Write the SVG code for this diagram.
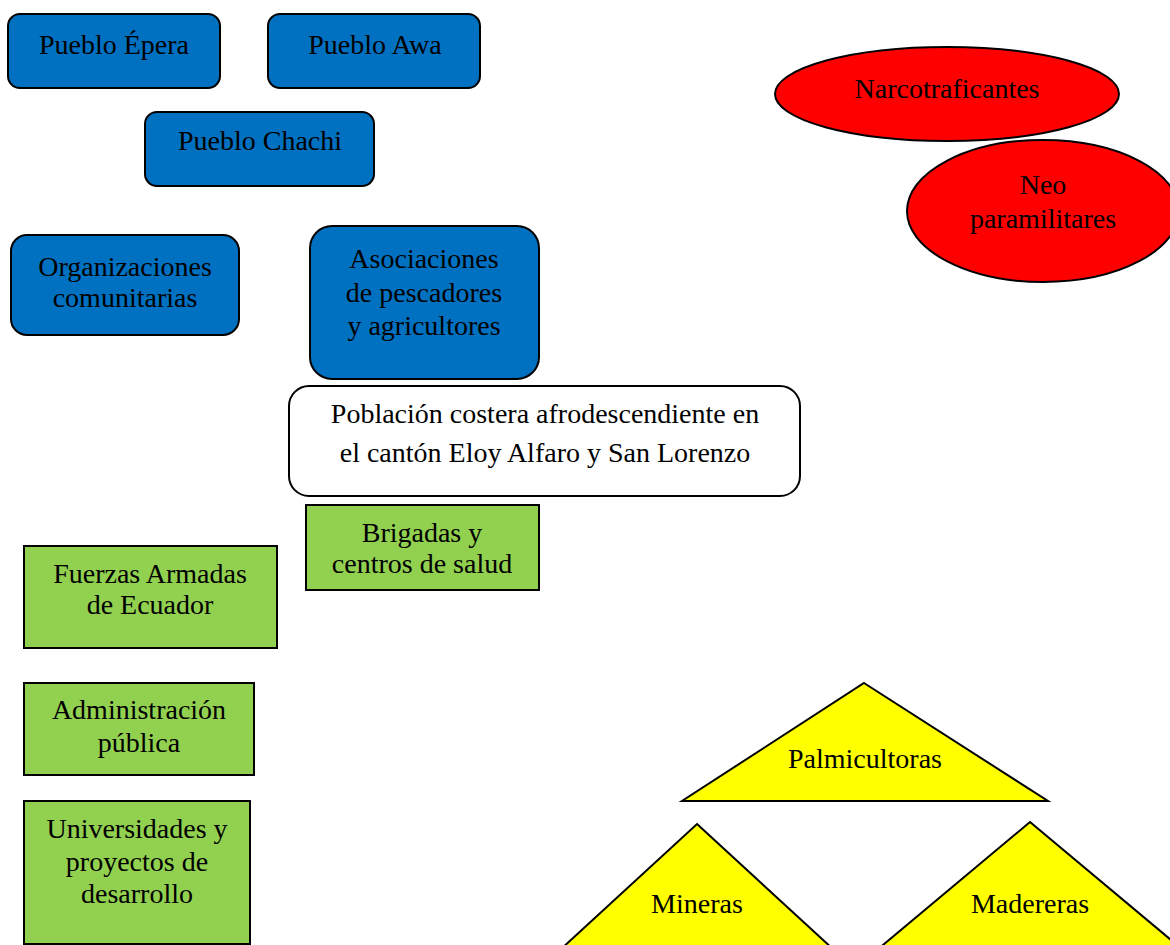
<svg xmlns="http://www.w3.org/2000/svg" width="1170" height="945" viewBox="0 0 1170 945">
<style>
.t{font-family:'Liberation Serif','DejaVu Serif',serif;font-size:28px;fill:#000;text-anchor:middle}
.blue{fill:#0070C0;stroke:#000;stroke-width:2}
.green{fill:#92D050;stroke:#000;stroke-width:2}
.red{fill:#FF0000;stroke:#000;stroke-width:2}
.yellow{fill:#FFFF00;stroke:#000;stroke-width:2}
.white{fill:#fff;stroke:#000;stroke-width:2}
</style>
<rect width="1170" height="945" fill="#fff"/>
<g id="connectors"></g>
<g id="pueblo-epera"><rect class="blue" x="8" y="14" width="212" height="74" rx="12"/><text class="t" x="114" y="54">Pueblo Épera</text></g>
<g id="pueblo-awa"><rect class="blue" x="268" y="14" width="212" height="74" rx="12"/><text class="t" x="375" y="54">Pueblo Awa</text></g>
<g id="pueblo-chachi"><rect class="blue" x="145" y="112" width="229" height="74" rx="12"/><text class="t" x="260" y="150">Pueblo Chachi</text></g>
<g id="organizaciones"><rect class="blue" x="11" y="235" width="228" height="100" rx="16"/><text class="t" x="125" y="276">Organizaciones</text><text class="t" x="125" y="307">comunitarias</text></g>
<g id="asociaciones"><rect class="blue" x="310" y="226" width="229" height="153" rx="22"/><text class="t" x="424" y="268">Asociaciones</text><text class="t" x="424" y="302">de pescadores</text><text class="t" x="424" y="335">y agricultores</text></g>
<g id="poblacion"><rect class="white" x="289" y="386" width="511" height="110" rx="20"/><text class="t" x="545" y="423">Población costera afrodescendiente en</text><text class="t" x="545" y="462">el cantón Eloy Alfaro y San Lorenzo</text></g>
<g id="brigadas"><rect class="green" x="306" y="505" width="233" height="85"/><text class="t" x="422" y="542">Brigadas y</text><text class="t" x="422" y="573">centros de salud</text></g>
<g id="fuerzas"><rect class="green" x="24" y="546" width="253" height="102"/><text class="t" x="150" y="583">Fuerzas Armadas</text><text class="t" x="150" y="614">de Ecuador</text></g>
<g id="administracion"><rect class="green" x="24" y="683" width="230" height="92"/><text class="t" x="139" y="719">Administración</text><text class="t" x="139" y="752">pública</text></g>
<g id="universidades"><rect class="green" x="24" y="801" width="226" height="143"/><text class="t" x="137" y="838">Universidades y</text><text class="t" x="137" y="871">proyectos de</text><text class="t" x="137" y="903">desarrollo</text></g>
<g id="narcotraficantes"><ellipse class="red" cx="947" cy="94" rx="172" ry="47"/><text class="t" x="947" y="98">Narcotraficantes</text></g>
<g id="neoparamilitares"><ellipse class="red" cx="1043" cy="211" rx="136" ry="71"/><text class="t" x="1043" y="194">Neo</text><text class="t" x="1043" y="228">paramilitares</text></g>
<g id="palmicultoras"><polygon class="yellow" points="864,683 1048,801 682,801"/><text class="t" x="865" y="768">Palmicultoras</text></g>
<g id="mineras"><polygon class="yellow" points="697,824 834,950 560,950"/><text class="t" x="697" y="913">Mineras</text></g>
<g id="madereras"><polygon class="yellow" points="1030,822 1183,950 877,950"/><text class="t" x="1030" y="913">Madereras</text></g>
</svg>
